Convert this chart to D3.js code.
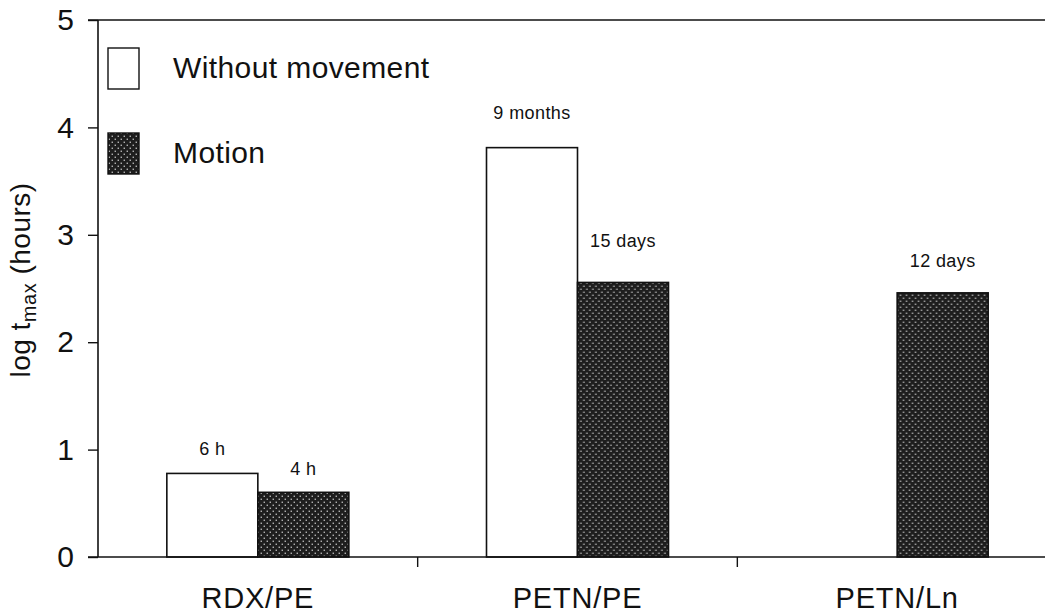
<!DOCTYPE html>
<html>
<head>
<meta charset="utf-8">
<script src="https://cdn.jsdelivr.net/npm/d3@7"></script>
<style>
  html, body { margin: 0; padding: 0; background: #fff; }
  svg { display: block; font-family: "Liberation Sans", Arial, Helvetica, sans-serif; }
</style>
</head>
<body>
<svg id="chart" width="1045" height="614"></svg>
<script>
// Explosive/polymer samples and the two test conditions
const categories = ["RDX/PE", "PETN/PE", "PETN/Ln"];
const series = ["Without movement", "Motion"];

// log10 of the maximum time in hours (null = not measured)
const withoutMovement = [Math.log10(6), Math.log10(9 * 30 * 24), null];
const motion = [Math.log10(4), Math.log10(15 * 24), Math.log10(12 * 24)];

// Printed duration above each bar
const withoutMovementLabels = ["6 h", "9 months", null];
const motionLabels = ["4 h", "15 days", "12 days"];

const yTicks = [0, 1, 2, 3, 4, 5];

const svg = d3.select("#chart");

const plotLeft = 98, plotRight = 1057, plotTop = 20, plotBottom = 557;

// Fill for the "Motion" bars: dark ground with a fine staggered dot screen
const defs = svg.append("defs");
const pat = defs.append("pattern")
  .attr("id", "stipple")
  .attr("patternUnits", "userSpaceOnUse")
  .attr("width", 6).attr("height", 6);
pat.append("rect").attr("width", 6).attr("height", 6).attr("fill", "#1e1e1e");
pat.append("rect").attr("x", 0.6).attr("y", 0.6).attr("width", 1.3).attr("height", 1.3).attr("fill", "#d0d0d0");
pat.append("rect").attr("x", 3.6).attr("y", 3.6).attr("width", 1.3).attr("height", 1.3).attr("fill", "#d0d0d0");

const x0 = d3.scaleBand().domain(categories).range([plotLeft, plotRight]).padding(0);
const barW = 91;
const x1 = d3.scaleBand().domain(series)
  .range([x0.bandwidth() / 2 - barW, x0.bandwidth() / 2 + barW]).padding(0);
const y = d3.scaleLinear().domain([0, 5]).range([plotBottom, plotTop]);

const fills = { "Without movement": "#ffffff", "Motion": "url(#stipple)" };

const rows = categories.map((c, i) => ({
  cat: c,
  bars: [
    { s: series[0], v: withoutMovement[i], label: withoutMovementLabels[i] },
    { s: series[1], v: motion[i], label: motionLabels[i] }
  ]
}));

// Bars
const groups = svg.append("g").selectAll("g").data(rows).join("g")
  .attr("transform", d => `translate(${x0(d.cat)},0)`);

groups.selectAll("rect").data(d => d.bars.filter(b => b.v != null)).join("rect")
  .attr("x", b => x1(b.s))
  .attr("y", b => y(b.v))
  .attr("width", x1.bandwidth())
  .attr("height", b => y(0) - y(b.v))
  .attr("fill", b => fills[b.s])
  .attr("stroke", "#111")
  .attr("stroke-width", 1.6);

// Duration labels; a few sit a bit further above their bar
const labelLift = { "6 h": 18, "4 h": 17, "9 months": 29, "15 days": 35, "12 days": 26 };
groups.selectAll("text.val").data(d => d.bars.filter(b => b.v != null && b.label)).join("text")
  .attr("class", "val")
  .attr("x", b => x1(b.s) + x1.bandwidth() / 2)
  .attr("y", b => y(b.v) - labelLift[b.label])
  .attr("text-anchor", "middle")
  .attr("font-size", 18)
  .attr("letter-spacing", "0.4px")
  .attr("fill", "#111")
  .text(b => b.label);

// Y axis
const yAxis = svg.append("g")
  .attr("transform", `translate(${plotLeft},0)`)
  .call(d3.axisLeft(y).tickValues(yTicks).tickFormat(d3.format("d")).tickSize(10).tickPadding(14));
yAxis.select(".domain").attr("stroke", "#111").attr("stroke-width", 1.6)
  .attr("d", `M0,${plotBottom}V${plotTop}`);
yAxis.selectAll(".tick line").attr("stroke", "#111").attr("stroke-width", 1.4);
yAxis.selectAll(".tick text").attr("font-size", 30).attr("fill", "#111")
  .attr("font-family", "Liberation Sans, Arial, sans-serif");

// Baseline and top frame line
svg.append("line").attr("x1", plotLeft - 10).attr("x2", 1045).attr("y1", y(0)).attr("y2", y(0))
  .attr("stroke", "#111").attr("stroke-width", 1.6);
svg.append("line").attr("x1", plotLeft - 10).attr("x2", 1045).attr("y1", y(5)).attr("y2", y(5))
  .attr("stroke", "#111").attr("stroke-width", 1.6);

// Category separators on the x axis
svg.append("g").selectAll("line").data(categories.slice(1)).join("line")
  .attr("x1", d => x0(d)).attr("x2", d => x0(d))
  .attr("y1", plotBottom).attr("y2", plotBottom + 10)
  .attr("stroke", "#111").attr("stroke-width", 1.4);

// Category names
svg.append("g").selectAll("text").data(categories).join("text")
  .attr("x", d => x0(d) + x0.bandwidth() / 2)
  .attr("y", 608)
  .attr("text-anchor", "middle")
  .attr("font-size", 29)
  .attr("letter-spacing", "0.8px")
  .attr("fill", "#111")
  .text(d => d);

// Y axis title with subscript
const yt = svg.append("text")
  .attr("transform", `translate(30,280) rotate(-90)`)
  .attr("text-anchor", "middle")
  .attr("font-size", 28)
  .attr("letter-spacing", "0.5px")
  .attr("fill", "#111");
yt.append("tspan").text("log t");
yt.append("tspan").attr("font-size", 20).attr("dy", 6).text("max");
yt.append("tspan").attr("dy", -6).text(" (hours)");

// Legend
const legend = svg.append("g");
const legendRows = [
  { s: series[0], y: 48 },
  { s: series[1], y: 133 }
];
legend.selectAll("rect").data(legendRows).join("rect")
  .attr("x", 108).attr("y", d => d.y)
  .attr("width", 31).attr("height", 41)
  .attr("fill", d => fills[d.s])
  .attr("stroke", "#111").attr("stroke-width", 1.4);
legend.selectAll("text").data(legendRows).join("text")
  .attr("x", 173).attr("y", d => d.y + 30)
  .attr("font-size", 30)
  .attr("letter-spacing", "0.4px")
  .attr("fill", "#111")
  .text(d => d.s);
</script>
</body>
</html>
